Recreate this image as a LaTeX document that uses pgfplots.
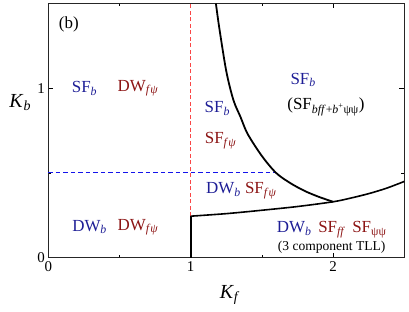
\documentclass[border=0pt]{standalone}
\usepackage{fontspec}
\setmainfont{Liberation Serif}
\usepackage{pgfplots}
\pgfplotsset{compat=1.18}
\definecolor{lblblue}{RGB}{30,30,150}
\definecolor{lblred}{RGB}{140,20,20}
\definecolor{dashred}{RGB}{250,70,70}
\definecolor{dashblu}{RGB}{20,20,235}
\newcommand{\fs}[1]{\fontsize{#1}{#1}\selectfont}
\begin{document}
\begin{tikzpicture}
\begin{axis}[
  scale only axis,
  width=356bp, height=254.2bp,
  xmin=0, xmax=2.5, ymin=0, ymax=1.5,
  xtick={0,1,2}, ytick={0,1},
  minor xtick={0.5,1.5,2.5}, minor ytick={0.5,1.5},
  tick align=inside,
  major tick length=5bp, minor tick length=3bp,
  tick style={black, line width=0.8bp},
  axis line style={line width=1bp, black!85},
  /pgf/number format/assume math mode=true,
  ticklabel style={font=\fs{15}},
  xlabel={\textit{K}\textsubscript{\textit{f}}},
  ylabel={\textit{K}\textsubscript{\textit{b}}},
  xlabel style={font=\fs{20}, at={(axis description cs:0.51,0)}, anchor=center, yshift=-37bp},
  ylabel style={font=\fs{20}, rotate=-90, at={(axis description cs:0,0.61)}, anchor=center, xshift=-28bp},
  clip=false,
]
% dashed guide lines
\addplot[color=dashred, dash pattern=on 4bp off 2.5bp, line width=1.3bp] coordinates {(1,0.245) (1,1.5)};
\addplot[color=dashblu, dash pattern=on 4.5bp off 3bp, line width=1bp] coordinates {(0,0.5) (1.6,0.5)};
% black boundaries
\addplot[black, line width=1.6bp] coordinates {(1,0) (1,0.245)};
\addplot[black, line width=1.6bp, smooth] coordinates {
  (1,0.245) (1.25,0.26) (1.5,0.28) (1.75,0.302) (2,0.33) (2.125,0.352) (2.25,0.378) (2.375,0.41) (2.5,0.45)};
\addplot[black, line width=1.8bp, smooth] coordinates {
  (1.177,1.5) (1.2,1.36) (1.25,1.10) (1.3,0.93) (1.35,0.83) (1.4,0.73) (1.5,0.60) (1.6,0.50) (1.7,0.44) (1.8,0.394) (1.9,0.359) (2.0,0.33)};
\coordinate (SW) at (rel axis cs:0,0);
% labels
\node[anchor=west, font=\fs{17}] at (axis cs:0.05,1.374) {(b)};
\node[font=\fs{17}, text=lblblue] at (axis cs:0.254,1.0) {SF\textsubscript{\textit{b}}};
\node[font=\fs{17}, text=lblred] at (axis cs:0.63,1.0) {DW\textsubscript{\textit{f}\textit{ψ}}};
\node[font=\fs{17}, text=lblblue] at (axis cs:0.29,0.18) {DW\textsubscript{\textit{b}}};
\node[font=\fs{17}, text=lblred] at (axis cs:0.63,0.18) {DW\textsubscript{\textit{f}\textit{ψ}}};
\node[font=\fs{17}, text=lblblue] at (axis cs:1.187,0.88) {SF\textsubscript{\textit{b}}};
\node[font=\fs{17}, text=lblred] at (axis cs:1.21,0.69) {SF\textsubscript{\textit{f}\textit{ψ}}};
\node[font=\fs{17}, text=lblblue] at (axis cs:1.79,1.05) {SF\textsubscript{\textit{b}}};
\node[font=\fs{17}] at (axis cs:1.95,0.89) {(SF\textsubscript{\textit{bff}+\textit{b}\textsuperscript{+}ψψ})};
\node[font=\fs{17}] at (axis cs:1.356,0.395) {\textcolor{lblblue}{DW\textsubscript{\textit{b}}} \textcolor{lblred}{SF\textsubscript{\textit{f}\textit{ψ}}}};
\node[font=\fs{17}] at (axis cs:1.99,0.165) {\textcolor{lblblue}{DW\textsubscript{\textit{b}}}\hspace{0.4em}\textcolor{lblred}{SF\textsubscript{\textit{ff}}}\hspace{0.4em}\textcolor{lblred}{SF\textsubscript{ψψ}}};
\node[font=\fs{13.6}] at (axis cs:1.99,0.063) {(3 component TLL)};
\end{axis}
\pgfresetboundingbox
\path[use as bounding box] ([xshift=-48.3bp,yshift=-54.3bp]SW) rectangle ++(409bp,312bp);
\end{tikzpicture}
\end{document}
